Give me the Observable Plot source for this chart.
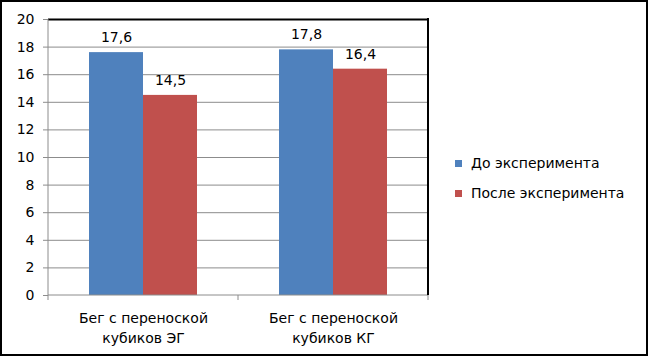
<!DOCTYPE html>
<html>
<head>
<meta charset="utf-8">
<script src="https://cdn.jsdelivr.net/npm/d3@7"></script>
<script src="https://cdn.jsdelivr.net/npm/@observablehq/plot@0.6"></script>
<style>
  html, body { margin: 0; padding: 0; background: #fff; }
  #wrap { position: relative; width: 648px; height: 358px; overflow: hidden; font-family: "DejaVu Sans", sans-serif; }
  #frame { position: absolute; left: 0; top: 0; width: 648px; height: 356px; border: 2px solid #000; box-sizing: border-box; pointer-events: none; }
  #legend { position: absolute; left: 455px; top: 154px; font-size: 14px; color: #000; }
  .row { display: flex; align-items: center; height: 18px; margin-bottom: 12px; white-space: nowrap; }
  .sw { width: 7px; height: 7px; margin-right: 9px; }
</style>
</head>
<body>
<div id="wrap"><div id="frame"></div><div id="legend"></div></div>
<script>
const categories = ["Бег с переноской\nкубиков ЭГ", "Бег с переноской\nкубиков КГ"];
const series = ["До эксперимента", "После эксперимента"];
const beforeValues = [17.6, 17.8];
const afterValues = [14.5, 16.4];
const colors = ["#4F81BD", "#C0504D"];
const yTicks = [0, 2, 4, 6, 8, 10, 12, 14, 16, 18, 20];

const table = [];
categories.forEach((c, i) => {
  table.push({cat: c, series: series[0], value: beforeValues[i]});
  table.push({cat: c, series: series[1], value: afterValues[i]});
});
const fmt = v => v.toFixed(1).replace(".", ",");
const grid = "#8c8c8c";

const chart = Plot.plot({
  width: 648,
  height: 358,
  marginLeft: 47,
  marginRight: 220,
  marginTop: 19,
  marginBottom: 63,
  style: {fontFamily: "DejaVu Sans, sans-serif", fontSize: "14px", color: "#000", background: "transparent"},
  fx: {domain: categories, padding: 0, label: null},
  x: {domain: series, paddingInner: 0, paddingOuter: 0.732, axis: null},
  y: {domain: [0, 20], label: null},
  color: {domain: series, range: colors},
  marks: [
    Plot.ruleY(yTicks.filter(t => t > 0 && t < 20), {stroke: grid, strokeWidth: 1}),
    Plot.barY(table, {fx: "cat", x: "series", y: "value", fill: "series"}),
    Plot.ruleY([20], {stroke: "#000", strokeWidth: 2}),
    Plot.text(table, {fx: "cat", x: "series", y: "value", text: d => fmt(d.value), dy: -15, fill: "#000", fontSize: 14}),
    Plot.axisY({ticks: yTicks, tickSize: 5, tickPadding: 9, stroke: grid, label: null, fontSize: 14}),
    Plot.axisFx({anchor: "bottom", tickSize: 0, tickPadding: 14, lineHeight: 1.4, label: null, fontSize: 14})
  ]
});

// axis lines and category boundary ticks, positioned from the chart's own scales
const svg = d3.select(chart);
const fx = chart.scale("fx");
const y = chart.scale("y");
const y0 = y.apply(0), yTop = y.apply(20);
const x0 = fx.apply(categories[0]);
const xEnd = fx.apply(categories[categories.length - 1]) + fx.bandwidth;
const g = svg.append("g");
g.append("line").attr("x1", x0).attr("x2", xEnd).attr("y1", y0).attr("y2", y0).attr("stroke", grid);
g.append("line").attr("x1", x0).attr("x2", x0).attr("y1", yTop).attr("y2", y0).attr("stroke", grid);
g.append("line").attr("x1", xEnd).attr("x2", xEnd).attr("y1", yTop - 1).attr("y2", y0).attr("stroke", "#000").attr("stroke-width", 2);
const bounds = categories.map(c => fx.apply(c)).concat([xEnd]);
bounds.forEach(b => {
  g.append("line").attr("x1", b).attr("x2", b).attr("y1", y0).attr("y2", y0 + 5).attr("stroke", grid);
});

document.getElementById("wrap").insertBefore(chart, document.getElementById("frame"));

const legend = document.getElementById("legend");
series.forEach((s, i) => {
  const row = document.createElement("div");
  row.className = "row";
  const sw = document.createElement("span");
  sw.className = "sw";
  sw.style.background = colors[i];
  const t = document.createElement("span");
  t.textContent = s;
  row.appendChild(sw);
  row.appendChild(t);
  legend.appendChild(row);
});
</script>
</body>
</html>
